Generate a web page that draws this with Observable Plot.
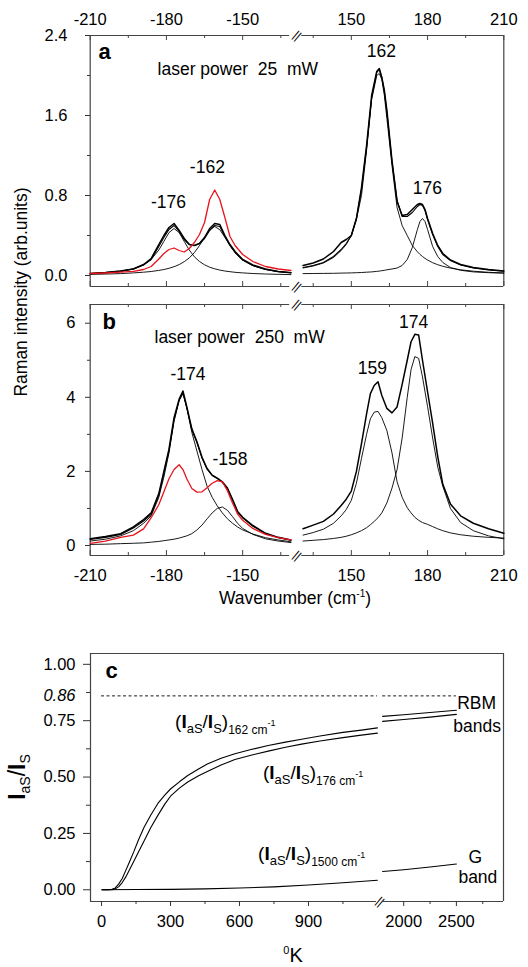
<!DOCTYPE html>
<html>
<head>
<meta charset="utf-8">
<script src="https://cdn.jsdelivr.net/npm/d3@7"></script>
<script src="https://cdn.jsdelivr.net/npm/@observablehq/plot@0.6"></script>
<style>
  html, body { margin: 0; padding: 0; background: #fff; }
  #chart { position: relative; width: 528px; height: 967px; overflow: hidden; font-family: "Liberation Sans", Arial, Helvetica, sans-serif; color: #000; }
  #chart svg { position: absolute; left: 0; }
  .lbl { position: absolute; white-space: nowrap; line-height: 1; }
</style>
</head>
<body>
<div id="chart"></div>
<script>
const FONT = '"Liberation Sans", Arial, Helvetica, sans-serif';
const FRAME = "#444";
const RED = "#e8141c";

// ---------------- shared wavenumber ticks (panels a, b) ----------------
const wnMajor = [-210, -180, -150, 150, 180, 210];
const wnMinor = [-195, -165, -135, 135, 165, 195];

// ---------------- panel a : laser power 25 mW ----------------
const aYMajor = [0, 0.8, 1.6, 2.4];
const aYMinor = [0.4, 1.2, 2.0];
const aLW = [-210,-204,-198,-193,-189,-186,-183,-181,-179,-177,-175,-173,-171,-169,-167,-165,-163,-161,-159,-157,-155,-153,-150,-146,-141,-136,-131];
const aLData = [0.02,0.03,0.045,0.065,0.11,0.17,0.31,0.40,0.48,0.52,0.45,0.37,0.31,0.30,0.32,0.38,0.47,0.52,0.51,0.40,0.31,0.24,0.16,0.105,0.065,0.04,0.028];
const aLSum  = [0.02,0.03,0.045,0.065,0.105,0.16,0.29,0.38,0.46,0.50,0.44,0.36,0.31,0.30,0.32,0.37,0.45,0.50,0.49,0.39,0.30,0.23,0.155,0.10,0.06,0.038,0.027];
const aLComp176 = [0.018,0.026,0.041,0.067,0.107,0.161,0.254,0.341,0.429,0.47,0.429,0.341,0.254,0.187,0.14,0.107,0.083,0.067,0.054,0.045,0.038,0.032,0.026,0.02,0.015,0.0115,0.009];
const aLComp162 = [0.011,0.0145,0.019,0.026,0.033,0.040,0.051,0.060,0.072,0.088,0.109,0.138,0.176,0.229,0.299,0.382,0.458,0.49,0.458,0.382,0.299,0.229,0.155,0.098,0.06,0.04,0.029];
const aLRed = [0.02,0.025,0.033,0.042,0.06,0.09,0.165,0.22,0.26,0.275,0.25,0.235,0.27,0.33,0.41,0.53,0.76,0.855,0.76,0.58,0.39,0.30,0.21,0.14,0.09,0.065,0.05];

const aRW = [131,135,139,143,146,148,150,152,154,156,158,160,161,162,163,164,166,168,170,172,174,176,177,178,179,180,182,184,186,189,193,198,204,210];
const aRData = [0.10,0.125,0.165,0.24,0.33,0.36,0.40,0.57,0.88,1.30,1.80,2.04,2.07,1.98,1.85,1.65,1.15,0.74,0.60,0.61,0.66,0.71,0.72,0.71,0.66,0.57,0.42,0.30,0.22,0.155,0.11,0.08,0.06,0.045];
const aRSum  = [0.08,0.10,0.13,0.19,0.26,0.32,0.40,0.57,0.86,1.28,1.78,2.03,2.06,1.98,1.84,1.63,1.14,0.75,0.59,0.59,0.63,0.69,0.71,0.70,0.65,0.56,0.41,0.29,0.21,0.15,0.105,0.075,0.055,0.042];
const aRComp162 = [0.075,0.095,0.125,0.18,0.25,0.31,0.40,0.56,0.80,1.25,1.76,2.0,2.02,1.96,1.80,1.57,1.10,0.68,0.50,0.40,0.30,0.237,0.211,0.19,0.171,0.155,0.128,0.108,0.092,0.074,0.057,0.043,0.032,0.025];
const aRComp176 = [0.019,0.020,0.021,0.022,0.024,0.025,0.026,0.028,0.030,0.033,0.036,0.041,0.044,0.048,0.052,0.057,0.065,0.075,0.10,0.16,0.28,0.46,0.54,0.57,0.54,0.46,0.29,0.19,0.13,0.08,0.052,0.036,0.028,0.024];

// ---------------- panel b : laser power 250 mW ----------------
const bYMajor = [0, 2, 4, 6];
const bYMinor = [1, 3, 5];
const bLW = [-210,-204,-198,-193,-189,-186,-183,-181,-179,-177,-175,-173.5,-172,-170,-168,-166,-164,-162,-160,-158,-156,-154,-152,-150,-146,-141,-136,-131];
const bLData = [0.18,0.24,0.32,0.50,0.70,0.88,1.40,2.0,2.6,3.45,3.95,4.17,3.75,3.15,2.8,2.38,2.08,1.9,1.82,1.72,1.55,1.25,0.92,0.76,0.54,0.33,0.22,0.15];
const bLSum  = [0.16,0.22,0.30,0.47,0.66,0.84,1.36,1.95,2.55,3.40,3.92,4.12,3.72,3.12,2.78,2.36,2.06,1.89,1.81,1.71,1.53,1.23,0.91,0.75,0.52,0.32,0.21,0.14];
const bLComp174 = [0.12,0.17,0.26,0.40,0.60,0.80,1.30,1.85,2.50,3.35,3.92,4.10,3.72,3.05,2.55,2.05,1.60,1.30,1.07,0.88,0.72,0.60,0.50,0.42,0.31,0.21,0.15,0.10];
const bLComp158 = [0.03,0.035,0.05,0.06,0.07,0.09,0.11,0.13,0.15,0.17,0.20,0.23,0.26,0.32,0.42,0.55,0.72,0.88,1.0,1.04,0.95,0.78,0.60,0.46,0.30,0.18,0.12,0.08];
const bLRed = [0.06,0.12,0.22,0.28,0.45,0.75,1.10,1.45,1.80,2.05,2.18,2.05,1.80,1.54,1.44,1.45,1.56,1.68,1.75,1.72,1.48,1.15,0.85,0.68,0.46,0.30,0.21,0.15];

const bRW = [131,135,139,143,146,148,150,152,154,156,157.5,159,160.5,162,164,166,168,170,172,173.5,175,176.5,178,180,182,184,186,189,193,198,204,210];
const bRData = [0.45,0.55,0.65,0.85,1.08,1.25,1.47,2.0,2.75,3.55,4.10,4.32,4.42,4.05,3.70,3.58,3.74,4.35,5.0,5.50,5.70,5.68,5.0,4.15,3.30,2.40,1.65,1.12,0.80,0.60,0.45,0.33];
const bRComp159 = [0.28,0.35,0.44,0.60,0.80,0.97,1.22,1.68,2.35,3.0,3.42,3.60,3.62,3.45,3.10,2.50,1.72,1.30,1.02,0.88,0.76,0.68,0.62,0.57,0.51,0.45,0.40,0.34,0.29,0.25,0.22,0.20];
const bRComp174 = [0.12,0.14,0.16,0.19,0.22,0.25,0.29,0.34,0.40,0.48,0.56,0.65,0.75,0.88,1.15,1.55,2.05,2.90,4.0,4.75,5.10,5.05,4.55,3.75,2.90,2.12,1.60,1.00,0.62,0.40,0.26,0.18];

// ---------------- panel c : ratio vs temperature ----------------
const cXMajor = [0, 300, 600, 900, 2000, 2500];
const cXMinor = [150, 450, 750, 1050, 2250, 2750];
const cYMajor = [0, 0.25, 0.5, 0.75, 1.0];
const cYMinor = [0.125, 0.375, 0.625, 0.875];
const cRefLevel = 0.86;
const cT = [5,30,45,60,75,90,105,120,140,160,185,215,245,275,300,340,375,420,460,520,580,650,725,800,870,950,1050,1130,1200];
const c162 = [0,0,0.002,0.008,0.026,0.05,0.085,0.12,0.168,0.22,0.277,0.333,0.383,0.42,0.447,0.48,0.507,0.535,0.558,0.583,0.603,0.622,0.64,0.655,0.668,0.682,0.698,0.708,0.718];
const c176 = [0,0,0,0.004,0.014,0.032,0.056,0.085,0.125,0.166,0.216,0.277,0.33,0.38,0.415,0.452,0.478,0.505,0.525,0.553,0.578,0.597,0.615,0.632,0.646,0.66,0.675,0.686,0.695];
const cTR = [1800, 2000, 2250, 2500];
const c162R = [0.769, 0.776, 0.786, 0.796];
const c176R = [0.747, 0.755, 0.766, 0.778];
const cTG = [0, 150, 300, 450, 600, 750, 900, 1050, 1200];
const cG = [0, 0.001, 0.002, 0.004, 0.008, 0.013, 0.021, 0.031, 0.042];
const cTGR = [1800, 2000, 2250, 2500];
const cGR = [0.081, 0.089, 0.101, 0.114];

// ---------------- broken-axis coordinates ----------------
const GAP_AB = 2.76;
const uAB = w => (w < 0 ? w + 210 : w - 130 + 80 + GAP_AB);
const U_AB_MAX = uAB(210);
const uC = T => (T < 1500 ? (T + 48) * 0.23 : 1248 * 0.23 + 5.2 + (T - 1800) * 0.1054);
const U_C_MAX = uC(2947);

// ---------------- helpers ----------------
const line = (f, xs, ys, o) => Plot.line(xs.map((x, i) => ({u: f(x), y: ys[i]})), {x: "u", y: "y", curve: "linear", strokeLinejoin: "round", ...o});
const black = (w) => ({stroke: "#000", strokeWidth: w});
const labelMap = (f, vals) => new Map(vals.map(v => [f(v), String(v)]));
const wnLabels = labelMap(uAB, wnMajor);
const cXLabels = labelMap(uC, cXMajor);

function abFrame(top, bottom) {
  const segs = [{x1: uAB(-210), x2: uAB(-131.5)}, {x1: uAB(130.5), x2: uAB(210)}];
  const gapMid = (uAB(-130) + uAB(130)) / 2;
  return [
    Plot.ruleX([uAB(-210), uAB(210)], {x: d => d, stroke: FRAME, strokeWidth: 1.2}),
    Plot.ruleY(segs, {y: () => top, x1: "x1", x2: "x2", stroke: FRAME, strokeWidth: 1.2}),
    Plot.ruleY(segs, {y: () => bottom, x1: "x1", x2: "x2", stroke: FRAME, strokeWidth: 1.2}),
    Plot.ruleX(wnMajor, {x: uAB, insetBottom: 246, stroke: FRAME}),
    Plot.ruleX(wnMinor, {x: uAB, insetBottom: 248, stroke: FRAME}),
    Plot.ruleX(wnMajor, {x: uAB, insetTop: 246, stroke: FRAME}),
    Plot.ruleX(wnMinor, {x: uAB, insetTop: 248, stroke: FRAME}),
    Plot.text([top, bottom], {x: () => gapMid, y: d => d, text: () => "||", rotate: 40, fontSize: 12, fill: "#000", textAnchor: "middle", lineAnchor: "middle"})
  ];
}
const styleBase = {fontFamily: FONT, fontSize: "16.5px", color: "#333", background: "transparent", overflow: "visible"};
const xAB = {domain: [0, U_AB_MAX], range: [89.7, 503.3], axis: null, label: null};
const num = (o) => ({textAnchor: "middle", lineAnchor: "middle", fontSize: 17.5, fill: "#000", ...o});
const at = (w, v) => ({x: () => uAB(w), y: () => v});

// ---------------- panel a ----------------
const panelA = Plot.plot({
  width: 528, height: 290, marginTop: 35, marginBottom: 4, marginLeft: 90, marginRight: 25,
  style: styleBase,
  x: xAB,
  y: {domain: [-0.11, 2.4], axis: null, label: null},
  marks: [
    ...abFrame(2.4, -0.11),
    Plot.axisY(aYMajor, {anchor: "left", tickSize: 5, tickPadding: 18, tickFormat: d => d.toFixed(1), label: null, fontSize: 16.5, fill: "#000"}),
    Plot.axisY(aYMinor, {anchor: "left", tickSize: 3, tickFormat: () => "", label: null}),
    Plot.axisX(wnMajor.map(uAB), {anchor: "top", tickSize: 0, tickPadding: 11, tickFormat: u => wnLabels.get(u), label: null, fontSize: 16.5, fill: "#000"}),
    line(uAB, aLW, aLComp176, black(0.9)),
    line(uAB, aLW, aLComp162, black(0.9)),
    line(uAB, aLW, aLSum, black(1.1)),
    line(uAB, aLW, aLData, black(1.5)),
    line(uAB, aLW, aLRed, {stroke: RED, strokeWidth: 1.3}),
    line(uAB, aRW, aRComp162, black(0.9)),
    line(uAB, aRW, aRComp176, black(0.9)),
    line(uAB, aRW, aRSum, black(1.1)),
    line(uAB, aRW, aRData, black(1.5)),
    Plot.text(["a"], {...at(-206.7, 2.233), textAnchor: "start", lineAnchor: "middle", fontWeight: "bold", fontSize: 22, fill: "#000"}),
    Plot.text(["laser power\u00a0\u00a025\u00a0\u00a0mW"], {...at(-183.5, 2.066), textAnchor: "start", lineAnchor: "middle", fontSize: 17.5, fill: "#000"}),
    Plot.text(["-176"], num(at(-179.2, 0.73))),
    Plot.text(["-162"], num(at(-163.9, 1.08))),
    Plot.text(["162"], num(at(161.8, 2.24))),
    Plot.text(["176"], num(at(179.9, 0.87)))
  ]
});

// ---------------- panel b ----------------
const panelB = Plot.plot({
  width: 528, height: 330, marginTop: 14, marginBottom: 65, marginLeft: 90, marginRight: 25,
  style: styleBase,
  x: xAB,
  y: {domain: [-0.27, 6.505], axis: null, label: null},
  marks: [
    ...abFrame(6.505, -0.27),
    Plot.axisY(bYMajor, {anchor: "left", tickSize: 5, tickPadding: 10, tickFormat: d => String(d), label: null, fontSize: 16.5, fill: "#000"}),
    Plot.axisY(bYMinor, {anchor: "left", tickSize: 3, tickFormat: () => "", label: null}),
    Plot.axisX(wnMajor.map(uAB), {anchor: "bottom", tickSize: 0, tickPadding: 14, tickFormat: u => wnLabels.get(u), label: null, fontSize: 16.5, fill: "#000"}),
    line(uAB, bLW, bLComp174, black(0.9)),
    line(uAB, bLW, bLComp158, black(0.9)),
    line(uAB, bLW, bLSum, black(1.1)),
    line(uAB, bLW, bLData, black(1.5)),
    line(uAB, bLW, bLRed, {stroke: RED, strokeWidth: 1.3}),
    line(uAB, bRW, bRComp159, black(0.9)),
    line(uAB, bRW, bRComp174, black(0.9)),
    line(uAB, bRW, bRData, black(1.5)),
    Plot.text(["b"], {...at(-205.2, 6.04), textAnchor: "start", lineAnchor: "middle", fontWeight: "bold", fontSize: 22, fill: "#000"}),
    Plot.text(["laser power\u00a0\u00a0250\u00a0\u00a0mW"], {...at(-184.7, 5.61), textAnchor: "start", lineAnchor: "middle", fontSize: 17.5, fill: "#000"}),
    Plot.text(["-174"], num(at(-171.5, 4.62))),
    Plot.text(["-158"], num(at(-155.0, 2.32))),
    Plot.text(["159"], num(at(158.3, 4.78))),
    Plot.text(["174"], num(at(174.5, 6.02)))
  ]
});

// ---------------- panel c ----------------
const cSegs = [{x1: uC(-48), x2: uC(1196)}, {x1: uC(1806), x2: uC(2947)}];
const atC = (T, v) => ({x: () => uC(T), y: () => v});
const panelC = Plot.plot({
  width: 528, height: 347, marginTop: 33, marginBottom: 66, marginLeft: 90, marginRight: 25,
  style: styleBase,
  x: {domain: [0, U_C_MAX], range: [90, 503], axis: null, label: null},
  y: {domain: [-0.052, 1.048], axis: null, label: null},
  marks: [
    Plot.ruleX([uC(-48), uC(2947)], {x: d => d, stroke: FRAME, strokeWidth: 1.2}),
    Plot.ruleY([1.048], {y: d => d, stroke: FRAME, strokeWidth: 1.2}),
    Plot.ruleY(cSegs, {y: () => -0.052, x1: "x1", x2: "x2", stroke: FRAME, strokeWidth: 1.2}),
    Plot.text([-0.052], {x: () => (uC(1200) + uC(1800)) / 2, y: d => d, text: () => "||", rotate: 40, fontSize: 12, fill: "#000", textAnchor: "middle", lineAnchor: "middle"}),
    Plot.axisY(cYMajor, {anchor: "left", tickSize: 7, tickPadding: 8, tickFormat: d => d.toFixed(2), label: null, fontSize: 16.5, fill: "#000"}),
    Plot.axisY(cYMinor, {anchor: "left", tickSize: 4, tickFormat: () => "", label: null}),
    Plot.text([cRefLevel], {x: () => 0, y: d => d, text: d => d.toFixed(2), dx: -15, textAnchor: "end", lineAnchor: "middle", fontStyle: "italic", fontSize: 16.5, fill: "#000"}),
    Plot.axisX(cXMajor.map(uC), {anchor: "bottom", tickSize: 5, tickPadding: 9, tickFormat: u => cXLabels.get(u), label: null, fontSize: 16.5, fill: "#000"}),
    Plot.axisX(cXMinor.map(uC), {anchor: "bottom", tickSize: 3, tickFormat: () => "", label: null}),
    Plot.ruleY([cRefLevel], {y: d => d, x1: () => uC(0), x2: () => uC(1200), stroke: "#000", strokeWidth: 0.9, strokeDasharray: "3,2.5"}),
    Plot.ruleY([cRefLevel], {y: d => d, x1: () => uC(1800), x2: () => uC(2500), stroke: "#000", strokeWidth: 0.9, strokeDasharray: "3,2.5"}),
    line(uC, cT, c162, black(1.1)),
    line(uC, cT, c176, black(1.1)),
    line(uC, cTR, c162R, black(1.1)),
    line(uC, cTR, c176R, black(1.1)),
    line(uC, cTG, cG, black(1.1)),
    line(uC, cTGR, cGR, black(1.1)),
    Plot.text(["c"], {...atC(17.4, 0.972), textAnchor: "start", lineAnchor: "middle", fontWeight: "bold", fontSize: 22, fill: "#000"}),
    Plot.text(["RBM"], {...atC(2507, 0.828), textAnchor: "start", lineAnchor: "middle", fontSize: 17.5, fill: "#000"}),
    Plot.text(["bands"], {...atC(2471, 0.724), textAnchor: "start", lineAnchor: "middle", fontSize: 17.5, fill: "#000"}),
    Plot.text(["G"], {...atC(2680, 0.145), textAnchor: "middle", lineAnchor: "middle", fontSize: 17.5, fill: "#000"}),
    Plot.text(["band"], {...atC(2519, 0.057), textAnchor: "start", lineAnchor: "middle", fontSize: 17.5, fill: "#000"})
  ]
});

// ratio labels with sub/superscripts, placed through panel c's scales
function ratioLabel(svg, T, v, sub) {
  const sx = svg.scale("x"), sy = svg.scale("y");
  const t = d3.select(svg).append("text")
    .attr("x", sx.apply(uC(T))).attr("y", sy.apply(v))
    .attr("text-anchor", "start")
    .attr("font-family", FONT).attr("font-size", 19).attr("fill", "#000");
  t.append("tspan").text("(");
  t.append("tspan").attr("font-weight", "bold").text("I");
  t.append("tspan").attr("font-size", 13).attr("dy", 5).text("aS");
  t.append("tspan").attr("dy", -5).text("/");
  t.append("tspan").attr("font-weight", "bold").text("I");
  t.append("tspan").attr("font-size", 13).attr("dy", 5).text("S");
  t.append("tspan").attr("dy", -5).text(")");
  t.append("tspan").attr("font-size", 12).attr("dy", 6).text(sub + " cm");
  t.append("tspan").attr("font-size", 9).attr("dy", -8).text("-1");
}
ratioLabel(panelC, 322, 0.716, "162");
ratioLabel(panelC, 704, 0.489, "176");
ratioLabel(panelC, 683, 0.129, "1500");

// ---------------- assemble ----------------
const root = document.getElementById("chart");
[[panelA, 0], [panelB, 290], [panelC, 620]].forEach(([el, top]) => {
  el.style.position = "absolute";
  el.style.left = "0px";
  el.style.top = top + "px";
  root.appendChild(el);
});
function addLabel(html, x, y, rotate, css) {
  const d = document.createElement("div");
  d.className = "lbl";
  d.style.left = x + "px";
  d.style.top = y + "px";
  d.style.transform = rotate ? "translate(-50%, -50%) rotate(-90deg)" : "translate(-50%, -50%)";
  Object.assign(d.style, css || {});
  d.innerHTML = html;
  root.appendChild(d);
}
addLabel("Raman intensity (arb.units)", 22, 292, true, {fontSize: "17.5px"});
addLabel('Wavenumber (cm<span style="font-size:10px;position:relative;top:-7px">-1</span>)', 295, 599, false, {fontSize: "17.5px"});
addLabel('<b>I</b><span style="font-size:14px;position:relative;top:5px">aS</span>/<b>I</b><span style="font-size:14px;position:relative;top:5px">S</span>', 17, 777, true, {fontSize: "23px"});
addLabel('<span style="font-size:11px;position:relative;top:-8px">0</span>K', 293, 955, false, {fontSize: "20px"});
</script>
</body>
</html>
